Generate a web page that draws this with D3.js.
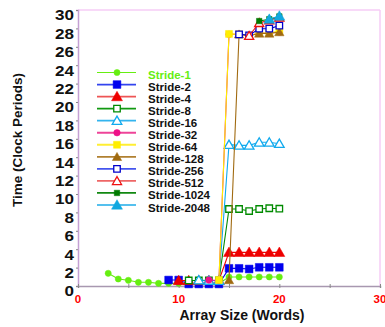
<!DOCTYPE html>
<html><head><meta charset="utf-8">
<script src="https://cdn.jsdelivr.net/npm/d3@7"></script>
<style>
html,body{margin:0;padding:0;background:#fff;}
svg{display:block;font-family:"Liberation Sans",Arial,sans-serif;}
</style></head>
<body><svg id="c" width="385" height="327"></svg>
<script>
// ---- data ----
const seriesNames = ["Stride-1","Stride-2","Stride-4","Stride-8","Stride-16","Stride-32","Stride-64","Stride-128","Stride-256","Stride-512","Stride-1024","Stride-2048"];
const startSize = [3,9,10,11,12,13,14,15,16,17,18,19];
const time1 = [1.38,0.76,0.62,0.4,0.4,0.29,0.29,0.29,0.29,0.29,0.29,0.29,0.98,0.98,0.98,0.98,0.98,0.98];
const time2 = [0.65,0.65,0.22,0.22,0.22,0.22,1.92,1.92,1.85,2.03,2.03,2.03];
const time4 = [0.6,0.6,0.6,0.6,0.6,3.66,3.66,3.66,3.66,3.66,3.66];
const time8 = [0.6,0.6,0.6,0.6,8.37,8.37,8.15,8.37,8.45,8.4];
const time16 = [0.65,0.6,0.6,15.36,15.29,15.29,15.62,15.62,15.47];
const time32 = [0.65,0.6,27.36,27.36,27.2,27.5,27.5,27.6];
const time64 = [0.65,27.4,27.36,27.2,27.5,27.5,27.7];
const time128 = [0.65,27.36,27.2,27.45,27.45,27.6];
const time256 = [27.36,27.25,27.97,27.97,28.3];
const time512 = [27.2,28.6,28.9,29.2];
const time1024 = [28.8,29.0,29.3];
const time2048 = [29.0,29.35];
const allTimes = [time1,time2,time4,time8,time16,time32,time64,time128,time256,time512,time1024,time2048];
const xTicks = [0,10,20,30];
const xMinorTicks = [0,5,10,15,20,25,30];
const yTicks = [0,2,4,6,8,10,12,14,16,18,20,22,24,26,28,30];

// ---- styles ----
const colors = ["#66ee11","#0000ee","#ee0000","#008a00","#11aaee","#ee1188","#ffee00","#a06a10","#0000cc","#ee1111","#007a00","#11a8e0"];
const legendLine = ["#66ee11","#3344ee","#ee5555","#119911","#33b4ee","#ee4499","#ffee33","#b08030","#4455ee","#ee6666","#118811","#55c0ee"];
const shapes = ["circle","square","triangle","square","triangle","circle","square","triangle","square","triangle","square","triangle"];
const filled = [true,true,true,false,false,true,true,true,false,false,true,true];
const msize = [30,60,52,42,40,34,48,38,42,36,30,52];

const svg = d3.select("#c");
const x = d3.scaleLinear().domain([0,30]).range([78,380]);
const y = d3.scaleLinear().domain([0,30]).range([286,10]);

// frame
svg.append("line").attr("x1",78).attr("x2",380).attr("y1",10).attr("y2",10).attr("stroke","#f6cdf6").attr("stroke-width",1.5);
svg.append("line").attr("x1",380).attr("x2",380).attr("y1",10).attr("y2",286).attr("stroke","#f6cdf6").attr("stroke-width",1.5);

// axes
const yAxis = d3.axisLeft(y).tickValues(yTicks).tickSize(2).tickFormat(d3.format("d"));
const gy = svg.append("g").attr("transform","translate(78,0)").call(yAxis);
gy.select(".domain").attr("stroke","#c4a0d4").attr("stroke-width",1.5);
gy.selectAll(".tick line").attr("stroke","#888");
gy.selectAll(".tick text").remove();
gy.selectAll(".tick").append("text")
  .attr("transform","translate(-4,5) scale(1.22,1)")
  .attr("text-anchor","end").attr("dy","0.35em")
  .attr("font-size",14).attr("font-weight","bold").attr("fill","#111")
  .text(d=>d);

const xAxis = d3.axisBottom(x).tickValues(xMinorTicks).tickSize(2).tickFormat("");
const gx = svg.append("g").attr("transform","translate(0,286)").call(xAxis);
gx.select(".domain").attr("stroke","#a898b0").attr("stroke-width",1.5);
gx.selectAll(".tick line").attr("stroke","#888").attr("y1",-2);
svg.append("g").selectAll("text").data(xTicks).join("text")
  .attr("x",d=>x(d)).attr("y",303).attr("text-anchor","middle")
  .attr("font-size",11.5).attr("font-weight","bold").attr("fill","#ff0000")
  .text(d=>d);

// titles
svg.append("text").attr("x",242).attr("y",320).attr("text-anchor","middle")
  .attr("font-size",14).attr("font-weight","bold").attr("fill","#111").text("Array Size (Words)");
svg.append("text").attr("transform","translate(22,140) rotate(-90)").attr("text-anchor","middle")
  .attr("font-size",13.5).attr("font-weight","bold").attr("fill","#111").text("Time (Clock Periods)");

function sym(i){
  const t = shapes[i]==="circle"?d3.symbolCircle:shapes[i]==="square"?d3.symbolSquare:d3.symbolTriangle;
  return d3.symbol().type(t).size(msize[i])();
}

// series
const line = d3.line().x(d=>x(d[0])).y(d=>y(d[1]));
allTimes.forEach((arr,i)=>{
  const pts = arr.map((v,k)=>[startSize[i]+k,v]);
  const g = svg.append("g");
  g.append("path").attr("d",line(pts)).attr("fill","none").attr("stroke",colors[i]).attr("stroke-width",1.1);
  g.selectAll("path.m").data(pts).join("path").attr("class","m")
    .attr("d",sym(i))
    .attr("transform",d=>`translate(${x(d[0])},${y(d[1])+(shapes[i]==="triangle"?1:0)})`)
    .attr("fill",filled[i]?colors[i]:"#fff")
    .attr("stroke",colors[i]).attr("stroke-width",filled[i]?0.5:1.3);
});

// legend
const ly = d3.scaleLinear().domain([0,11]).range([72.5,205]);
const lg = svg.append("g");
seriesNames.forEach((n,i)=>{
  const yy = ly(i);
  lg.append("line").attr("x1",97).attr("x2",136).attr("y1",yy).attr("y2",yy)
    .attr("stroke",legendLine[i]).attr("stroke-width",i===0?1.2:1.8);
  lg.append("path").attr("d",sym(i)).attr("transform",`translate(117,${yy+(shapes[i]==="triangle"?1:0)})`)
    .attr("fill",filled[i]?colors[i]:"#fff").attr("stroke",colors[i]).attr("stroke-width",filled[i]?0.5:1.3);
  lg.append("text").attr("x",148).attr("y",yy+2.5).attr("dy","0.35em")
    .attr("font-size",11.5).attr("font-weight","bold").attr("fill",i===0?"#66ee11":"#111").text(n);
});
</script></body></html>
